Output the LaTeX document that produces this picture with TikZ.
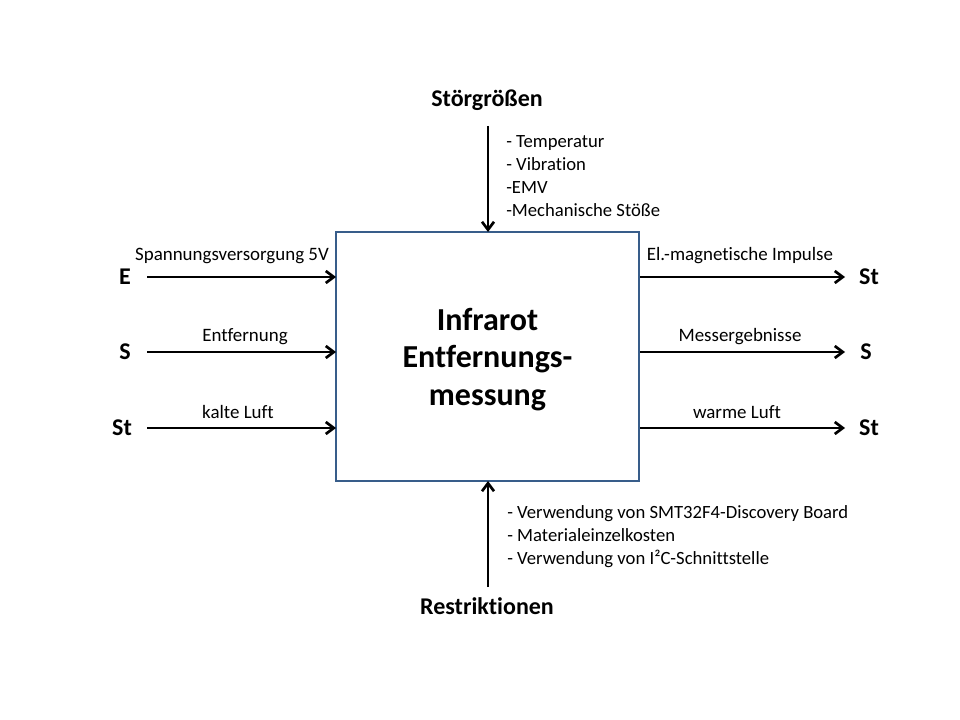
\documentclass[tikz,border=0pt]{standalone}
\usepackage{fontspec}
\setmainfont{Carlito}[Ligatures=NoCommon]
\usetikzlibrary{arrows.meta}
\definecolor{boxblue}{HTML}{385D8A}
\begin{document}
\begin{tikzpicture}[x=0.75pt,y=-0.75pt,
  flow/.style={line width=2.2pt,-{Straight Barb[length=6pt,width=9pt,line width=2pt]}},
  side/.style={font=\bfseries\fontsize{18}{21}\selectfont,inner sep=0pt},
  lab/.style={font=\fontsize{14.2}{17}\selectfont,inner sep=0pt},
  list/.style={font=\fontsize{14}{17.2}\selectfont,align=left,inner sep=0pt,anchor=north west}]
\useasboundingbox[fill=white] (0,0) rectangle (960,720);
\node[draw=boxblue,line width=2pt,minimum width=303*0.75pt,minimum height=249*0.75pt,inner sep=0pt] (box) at (487.5,356.5) {};
\node[font=\bfseries\fontsize{24}{28.2}\selectfont,align=center,inner sep=0pt] (title) at (487.5,359.5)
  {Infrarot\\Entfernungs-\\messung};
% left inputs
\node[side] (e) at (125,277) {E};
\node[side] (s) at (125,352) {S};
\node[side] (st) at (122,428) {St};
\coordinate (e1) at (147,277); \coordinate (e2) at (336,277);
\coordinate (s1) at (147,352); \coordinate (s2) at (336,352);
\coordinate (t1) at (147,428); \coordinate (t2) at (336,428);
\draw[flow] (e1) -- (e2);
\draw[flow] (s1) -- (s2);
\draw[flow] (t1) -- (t2);
\node[lab] (le) at (232,256) {Spannungsversorgung 5V};
\node[lab] (ls) at (245,337) {Entfernung};
\node[lab] (lt) at (238,412) {kalte Luft};
% right outputs
\coordinate (o1a) at (640,277); \coordinate (o1b) at (845,277);
\coordinate (o2a) at (640,352); \coordinate (o2b) at (845,352);
\coordinate (o3a) at (640,428); \coordinate (o3b) at (845,428);
\draw[flow] (o1a) -- (o1b);
\draw[flow] (o2a) -- (o2b);
\draw[flow] (o3a) -- (o3b);
\node[side] (ro1) at (869,277) {St};
\node[side] (ro2) at (866,352) {S};
\node[side] (ro3) at (869,428) {St};
\node[lab] (lo1) at (740,256) {El.-magnetische Impulse};
\node[lab] (lo2) at (740,337) {Messergebnisse};
\node[lab] (lo3) at (737,412) {warme Luft};
% top
\node[side] (stoer) at (487,100) {Störgrößen};
\coordinate (top1) at (488,126); \coordinate (top2) at (488,232);
\draw[flow] (top1) -- (top2);
\node[list] (tl) at (506,135) {- Temperatur\\- Vibration\\-EMV\\-Mechanische Stöße};
% bottom
\node[side] (restr) at (487,606) {Restriktionen};
\coordinate (b1) at (488,587); \coordinate (b2) at (488,481);
\draw[flow] (b1) -- (b2);
\node[list] (bl) at (507,505) {- Verwendung von SMT32F4-Discovery Board\\- Materialeinzelkosten\\- Verwendung von I²C-Schnittstelle};
\end{tikzpicture}
\end{document}
